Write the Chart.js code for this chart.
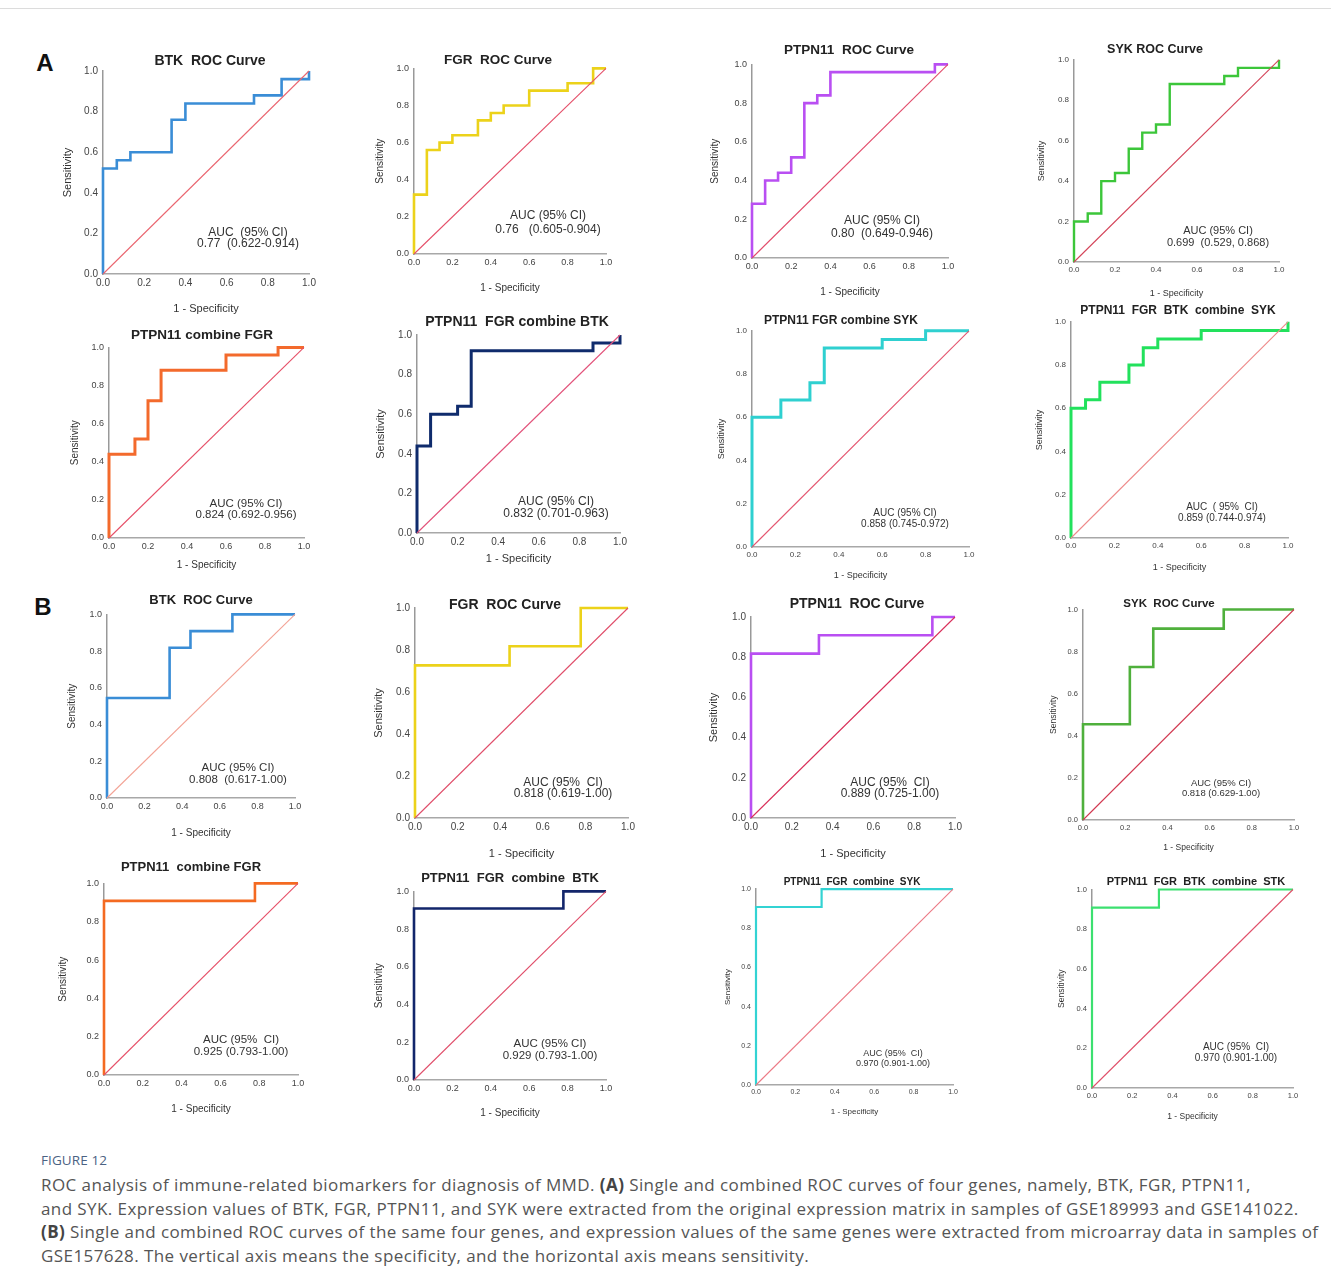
<!DOCTYPE html>
<html>
<head>
<meta charset="utf-8">
<script src="https://cdn.jsdelivr.net/npm/chart.js@4.4.1/dist/chart.umd.min.js"></script>
<style>
    body { margin: 0; background: #fff; width: 1331px; height: 1287px; position: relative; overflow: hidden; font-family: "Liberation Sans", Arial, sans-serif; }
    .topline { position: absolute; left: 0; top: 8px; width: 1331px; height: 1px; background: #dcdcdc; }
    .panel { position: absolute; }
    .lbl { position: absolute; white-space: pre; transform: translate(-50%, -50%); color: #222; text-align: center; }
    .ttl { font-weight: bold; }
    .auc { color: #333; }
    .letter { position: absolute; font-weight: bold; font-size: 24px; transform: translate(-50%, -50%); color: #111; }
    #caption { position: absolute; left: 41px; top: 1149px; font-family: "Open Sans", "Noto Sans", sans-serif; }
    #caption .fig { font-size: 13.5px; color: #4b6283; letter-spacing: 0.1px; line-height: 22px; }
    #caption .txt { font-size: 17px; letter-spacing: 0.42px; color: #555; line-height: 23.5px; white-space: nowrap; margin-top: 2px; }
    #caption b { color: #444; }
</style>
</head>
<body>
<div class="topline"></div>
<div class="letter" style="left:45px;top:63px;">A</div>
<div class="letter" style="left:43px;top:607px;">B</div>
<div id="charts"></div>
<div id="caption">
    <div class="fig">FIGURE 12</div>
    <div class="txt">ROC analysis of immune-related biomarkers for diagnosis of MMD. <b>(A)</b> Single and combined ROC curves of four genes, namely, BTK, FGR, PTPN11,<br>and SYK. Expression values of BTK, FGR, PTPN11, and SYK were extracted from the original expression matrix in samples of GSE189993 and GSE141022.<br><b>(B)</b> Single and combined ROC curves of the same four genes, and expression values of the same genes were extracted from microarray data in samples of<br>GSE157628. The vertical axis means the specificity, and the horizontal axis means sensitivity.</div>
</div>
<script>
// axis ticks shared by every panel
const tickValues = [0, 0.2, 0.4, 0.6, 0.8, 1.0];
const diagX = [0, 1];
const diagY = [0, 1];

// (A) GSE189993 + GSE141022 : 1 - specificity / sensitivity
const btkA_x = [0, 0, 0.067, 0.133, 0.333, 0.4, 0.733, 0.867, 1, 1];
const btkA_y = [0, 0.52, 0.56, 0.60, 0.76, 0.84, 0.88, 0.96, 0.96, 1];
const fgrA_x = [0, 0, 0.067, 0.133, 0.2, 0.333, 0.4, 0.467, 0.6, 0.8, 0.933, 1];
const fgrA_y = [0, 0.32, 0.56, 0.60, 0.64, 0.72, 0.76, 0.80, 0.88, 0.92, 1, 1];
const ptpnA_x = [0, 0, 0.067, 0.133, 0.2, 0.267, 0.333, 0.4, 0.933, 1];
const ptpnA_y = [0, 0.28, 0.40, 0.44, 0.52, 0.80, 0.84, 0.96, 1, 1];
const sykA_x = [0, 0, 0.067, 0.133, 0.2, 0.267, 0.333, 0.4, 0.467, 0.733, 0.8, 1, 1];
const sykA_y = [0, 0.20, 0.24, 0.40, 0.44, 0.56, 0.64, 0.68, 0.88, 0.92, 0.96, 0.96, 1];
const pfA_x = [0, 0, 0.133, 0.2, 0.267, 0.6, 0.867, 1];
const pfA_y = [0, 0.44, 0.52, 0.72, 0.88, 0.96, 1, 1];
const pfbA_x = [0, 0, 0.067, 0.2, 0.267, 0.867, 1, 1];
const pfbA_y = [0, 0.44, 0.60, 0.64, 0.92, 0.96, 0.96, 1];
const pfsA_x = [0, 0, 0.133, 0.267, 0.333, 0.6, 0.8, 1];
const pfsA_y = [0, 0.60, 0.68, 0.76, 0.92, 0.96, 1, 1];
const pfbsA_x = [0, 0, 0.067, 0.133, 0.267, 0.333, 0.4, 0.6, 1, 1];
const pfbsA_y = [0, 0.60, 0.64, 0.72, 0.80, 0.88, 0.92, 0.96, 0.96, 1];

// (B) GSE157628
const btkB_x = [0, 0, 0.333, 0.444, 0.667, 1];
const btkB_y = [0, 0.545, 0.818, 0.909, 1, 1];
const fgrB_x = [0, 0, 0.444, 0.778, 1];
const fgrB_y = [0, 0.727, 0.818, 1, 1];
const ptpnB_x = [0, 0, 0.333, 0.889, 1];
const ptpnB_y = [0, 0.818, 0.909, 1, 1];
const sykB_x = [0, 0, 0.222, 0.333, 0.667, 1];
const sykB_y = [0, 0.455, 0.727, 0.909, 1, 1];
const pfB_x = [0, 0, 0.778, 1];
const pfB_y = [0, 0.909, 1, 1];
const pfbB_x = [0, 0, 0.778, 1];
const pfbB_y = [0, 0.909, 1, 1];
const pfsB_x = [0, 0, 0.333, 1];
const pfsB_y = [0, 0.909, 1, 1];
const pfbsB_x = [0, 0, 0.333, 1];
const pfbsB_y = [0, 0.909, 1, 1];

const titles = [
    'BTK  ROC Curve', 'FGR  ROC Curve', 'PTPN11  ROC Curve', 'SYK ROC Curve',
    'PTPN11 combine FGR', 'PTPN11  FGR combine BTK', 'PTPN11 FGR combine SYK', 'PTPN11  FGR  BTK  combine  SYK',
    'BTK  ROC Curve', 'FGR  ROC Curve', 'PTPN11  ROC Curve', 'SYK  ROC Curve',
    'PTPN11  combine FGR', 'PTPN11  FGR  combine  BTK', 'PTPN11  FGR  combine  SYK', 'PTPN11  FGR  BTK  combine  STK'
];
const aucLines = [
    ['AUC  (95% CI)', '0.77  (0.622-0.914)'], ['AUC (95% CI)', '0.76   (0.605-0.904)'],
    ['AUC (95% CI)', '0.80  (0.649-0.946)'], ['AUC (95% CI)', '0.699  (0.529, 0.868)'],
    ['AUC (95% CI)', '0.824 (0.692-0.956)'], ['AUC (95% CI)', '0.832 (0.701-0.963)'],
    ['AUC (95% CI)', '0.858 (0.745-0.972)'], ['AUC  ( 95%  CI)', '0.859 (0.744-0.974)'],
    ['AUC (95% CI)', '0.808  (0.617-1.00)'], ['AUC (95%  CI)', '0.818 (0.619-1.00)'],
    ['AUC (95%  CI)', '0.889 (0.725-1.00)'], ['AUC (95% CI)', '0.818 (0.629-1.00)'],
    ['AUC (95%  CI)', '0.925 (0.793-1.00)'], ['AUC (95% CI)', '0.929 (0.793-1.00)'],
    ['AUC (95%  CI)', '0.970 (0.901-1.00)'], ['AUC (95%  CI)', '0.970 (0.901-1.00)']
];

(function () {
    // layout: plot box [left, top, right, bottom], y-title gap, x-title gap, tick font,
    // title centre + size, AUC centre + size + line height
    const panels = [
        { x: btkA_x, y: btkA_y, color: '#3a8dd6', diag: '#ea6670', lw: 2.6, box: [103, 68, 309, 274], yd: 36, xg: 36, fs: 10, t: [210, 60, 14], a: [248, 237.5, 12, 11.5] },
        { x: fgrA_x, y: fgrA_y, color: '#ecd21a', diag: '#e5506a', lw: 2.6, box: [414, 66, 606, 254], yd: 34, xg: 34, fs: 9, t: [498, 59, 13.5], a: [548, 222, 12, 14] },
        { x: ptpnA_x, y: ptpnA_y, color: '#b94ff2', diag: '#e24d6c', lw: 2.6, box: [752, 62, 948, 258], yd: 37, xg: 34, fs: 9, t: [849, 49, 13.5], a: [882, 226.5, 12, 13] },
        { x: sykA_x, y: sykA_y, color: '#3cc63a', diag: '#d44459', lw: 2.4, box: [1074, 58, 1279, 262], yd: 32, xg: 31, fs: 8, t: [1155, 49, 12.5], a: [1218, 236, 11, 12] },
        { x: pfA_x, y: pfA_y, color: '#f36a2c', diag: '#e65068', lw: 3, box: [109, 345, 304, 538], yd: 34, xg: 27, fs: 9, t: [202, 334, 13.5], a: [246, 508.5, 11.5, 11.5] },
        { x: pfbA_x, y: pfbA_y, color: '#0f2b6c', diag: '#e2527a', lw: 3, box: [417, 332, 620, 533], yd: 37, xg: 27, fs: 10, t: [517, 321, 14], a: [556, 506.5, 12, 12] },
        { x: pfsA_x, y: pfsA_y, color: '#2fd0d0', diag: '#e45670', lw: 3, box: [752, 329, 969, 547], yd: 30, xg: 28, fs: 8, t: [841, 320, 12], a: [905, 517.5, 10, 11] },
        { x: pfbsA_x, y: pfbsA_y, color: '#22e15c', diag: '#ee8a8a', lw: 3, box: [1071, 320, 1288, 538], yd: 31, xg: 29, fs: 8, t: [1178, 310, 12], a: [1222, 511.5, 10, 11] },
        { x: btkB_x, y: btkB_y, color: '#3a8dd6', diag: '#f3a396', lw: 2.6, box: [107, 612, 295, 798], yd: 35, xg: 35, fs: 9, t: [201, 599, 13], a: [238, 773, 11.5, 12] },
        { x: fgrB_x, y: fgrB_y, color: '#ecd21a', diag: '#e04e6a', lw: 2.6, box: [415, 605, 628, 818], yd: 37, xg: 37, fs: 10, t: [505, 604, 14], a: [563, 787.5, 12, 11.5] },
        { x: ptpnB_x, y: ptpnB_y, color: '#b94ff2', diag: '#d9305a', lw: 2.6, box: [751, 614, 955, 818], yd: 38, xg: 37, fs: 10, t: [857, 603, 14], a: [890, 787.5, 12, 11.5] },
        { x: sykB_x, y: sykB_y, color: '#4fb03c', diag: '#d23a52', lw: 2.6, box: [1083, 608, 1294, 820], yd: 28, xg: 27, fs: 7.5, t: [1169, 603, 11.5], a: [1221, 788, 9.5, 10] },
        { x: pfB_x, y: pfB_y, color: '#f46a21', diag: '#e65068', lw: 2.6, box: [104, 881, 298, 1075], yd: 41, xg: 34, fs: 9, t: [191, 866, 13], a: [241, 1045, 11.5, 12] },
        { x: pfbB_x, y: pfbB_y, color: '#13266b', diag: '#e04e6a', lw: 2.6, box: [414, 889, 606, 1080], yd: 35, xg: 33, fs: 9, t: [510, 877, 13], a: [550, 1049, 11.5, 12] },
        { x: pfsB_x, y: pfsB_y, color: '#33d3d3', diag: '#ec7a86', lw: 2.2, box: [756, 888, 953, 1085], yd: 27, xg: 26, fs: 7, t: [852, 881, 10], a: [893, 1058, 9, 10] },
        { x: pfbsB_x, y: pfbsB_y, color: '#3ce070', diag: '#e0506a', lw: 2.2, box: [1092, 888, 1293, 1088], yd: 29, xg: 28, fs: 7.5, t: [1196, 881, 11], a: [1236, 1051.5, 10, 11] }
    ];

    const host = document.getElementById('charts');

    function points(xs, ys) {
        return xs.map((x, i) => ({ x: x, y: ys[i] }));
    }

    function addLabel(cls, text, cx, cy, size, lh) {
        const el = document.createElement('div');
        el.className = 'lbl ' + cls;
        el.style.left = cx + 'px';
        el.style.top = cy + 'px';
        el.style.fontSize = size + 'px';
        if (lh) el.style.lineHeight = lh + 'px';
        el.textContent = text;
        document.body.appendChild(el);
    }

    function axis(p, titleText, isX) {
        return {
            type: 'linear',
            min: 0,
            max: 1,
            afterBuildTicks: (s) => { s.ticks = tickValues.map(v => ({ value: v })); },
            ticks: {
                autoSkip: false,
                maxRotation: 0,
                padding: isX ? 3 : 5,
                color: '#444',
                font: { size: p.fs, family: 'Liberation Sans' },
                callback: (v) => Number(v).toFixed(1)
            },
            grid: { display: false, drawTicks: false },
            border: { color: isX ? '#a8a8a8' : '#999', width: 1.5 },
            title: {
                display: true,
                text: titleText,
                color: '#333',
                font: { size: p.fs + 1, family: 'Liberation Sans' },
                padding: { top: 4, bottom: 4 }
            },
            afterFit: (s) => {
                if (isX) s.height = p.xg + 10;
                else s.width = p.yd + 10;
            }
        };
    }

    function drawPanel(p, idx) {
        const [L, T, R, B] = p.box;
        const yW = p.yd + 10;
        const xH = p.xg + 10;
        const w = (R - L) + yW + 10;
        const h = (B - T) + 8 + xH;

        const wrap = document.createElement('div');
        wrap.className = 'panel';
        wrap.style.left = (L - yW) + 'px';
        wrap.style.top = (T - 8) + 'px';
        wrap.style.width = w + 'px';
        wrap.style.height = h + 'px';
        const canvas = document.createElement('canvas');
        canvas.width = w;
        canvas.height = h;
        canvas.style.width = w + 'px';
        canvas.style.height = h + 'px';
        wrap.appendChild(canvas);
        host.appendChild(wrap);

        new Chart(canvas, {
            type: 'scatter',
            data: {
                datasets: [
                    {
                        data: points(diagX, diagY),
                        showLine: true,
                        borderColor: p.diag,
                        borderWidth: 1.1,
                        pointRadius: 0,
                        clip: 6
                    },
                    {
                        data: points(p.x, p.y),
                        showLine: true,
                        stepped: true,
                        borderColor: p.color,
                        borderWidth: p.lw,
                        borderJoinStyle: 'miter',
                        borderCapStyle: 'butt',
                        pointRadius: 0,
                        clip: 6
                    }
                ]
            },
            options: {
                responsive: false,
                animation: false,
                events: [],
                layout: { padding: { top: 8, right: 10, left: 0, bottom: 0 } },
                plugins: { legend: { display: false }, tooltip: { enabled: false } },
                scales: {
                    x: axis(p, '1 - Specificity', true),
                    y: axis(p, 'Sensitivity', false)
                }
            }
        });

        addLabel('ttl', titles[idx], p.t[0], p.t[1], p.t[2]);
        addLabel('auc', aucLines[idx].join('\n'), p.a[0], p.a[1], p.a[2], p.a[3]);
    }

    function init() {
        if (typeof Chart === 'undefined') return;
        panels.forEach(drawPanel);
    }

    init();
})();
</script>
</body>
</html>
